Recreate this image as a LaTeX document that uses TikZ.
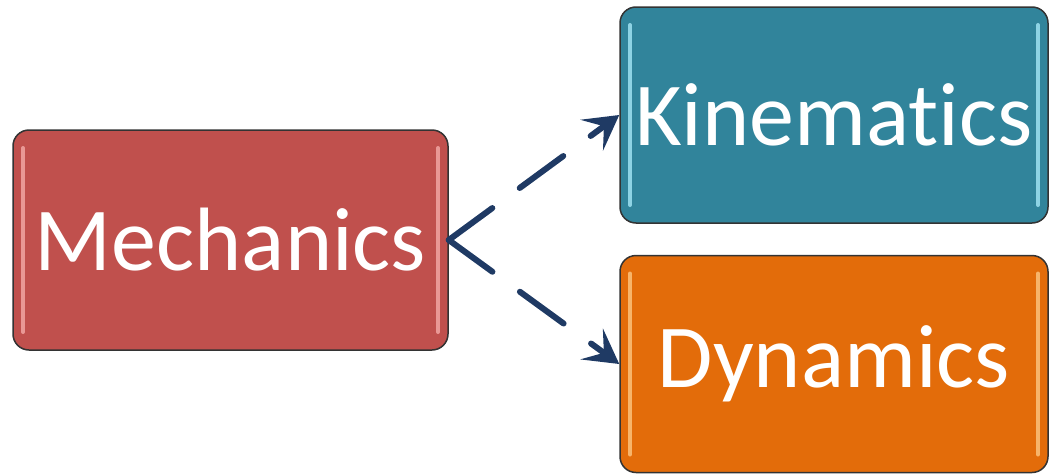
\documentclass[tikz,border=0pt]{standalone}
\usepackage{fontspec}
\setmainfont[Ligatures={NoCommon}]{Carlito}
\usepackage{tikz}
\usetikzlibrary{arrows.meta,positioning,calc}
\definecolor{mechred}{HTML}{C0504D}
\definecolor{mechhi}{HTML}{E99895}
\definecolor{kinteal}{HTML}{31849B}
\definecolor{kinhi}{HTML}{8ED3E4}
\definecolor{dynorange}{HTML}{E36C0A}
\definecolor{dynhi}{HTML}{F7B46A}
\definecolor{arrownavy}{HTML}{1F3A64}

\begin{document}
\begin{tikzpicture}[x=1pt, y=-1pt]
	\tikzstyle{topic} = [rectangle, rounded corners=16pt, draw=black!80, line width=1.5pt, inner sep=0pt, text=white, font=\fontsize{90}{100}\selectfont, text centered]
	\tikzstyle{gloss} = [path picture={
		\draw[line width=4pt, line cap=round, #1] ($(path picture bounding box.north west)+(10pt,-18pt)$) -- ($(path picture bounding box.south west)+(10pt,18pt)$);
		\draw[line width=4pt, line cap=round, #1] ($(path picture bounding box.north east)+(-10pt,-18pt)$) -- ($(path picture bounding box.south east)+(-10pt,18pt)$);}]
	\tikzstyle{branch} = [draw=arrownavy, line width=6pt, line cap=round, dash pattern=on 54pt off 34pt, -{Stealth[length=34pt, width=38pt, inset=15pt]}]
	\useasboundingbox (0,0) rectangle (1050,474);
	\node (mech) [topic, fill=mechred, gloss=mechhi, minimum width=435pt, minimum height=220pt] at (230.5,240) {Mechanics};
	\node (kin) [topic, fill=kinteal, gloss=kinhi, minimum width=428pt, minimum height=216pt] at (834,115) {Kinematics};
	\node (dyn) [topic, fill=dynorange, gloss=dynhi, minimum width=428pt, minimum height=217pt] at (834,364) {Dynamics};

	\draw [branch] (mech.east) -- (kin.west);
	\draw [branch] (mech.east) -- (dyn.west);
\end{tikzpicture}
\end{document}
